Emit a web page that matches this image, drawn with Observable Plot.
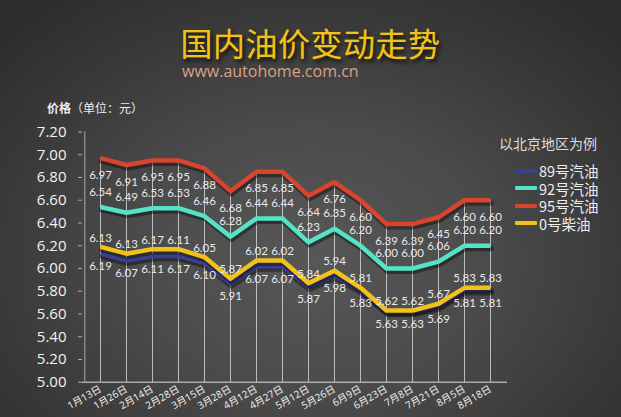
<!DOCTYPE html>
<html><head><meta charset="utf-8">
<script src="https://cdn.jsdelivr.net/npm/d3@7"></script>
<script src="https://cdn.jsdelivr.net/npm/@observablehq/plot@0.6"></script>
<style>
html,body{margin:0;padding:0;background:#2b2b2b;}
body{width:621px;height:417px;overflow:hidden;font-family:"Open Sans","Noto Sans CJK SC",sans-serif;}
#wrap{position:relative;width:621px;height:417px;overflow:hidden;
  background:radial-gradient(ellipse 70% 80% at 50% 62%, #575757 0%, #4b4b4b 40%, #383838 75%, #2c2c2c 100%);}
#title{position:absolute;left:0;top:26px;width:621px;text-align:center;font-family:"Noto Sans CJK SC",sans-serif;
  font-size:32px;line-height:32px;color:#f0c21c;text-shadow:0 0 1px #7a5a00,2px 3px 4px rgba(0,0,0,0.85);letter-spacing:0.5px;}
#sub{position:absolute;left:182px;top:62px;font-family:"Open Sans",sans-serif;font-size:16px;line-height:19px;color:#d9a284;}
#unit{position:absolute;left:47px;top:100px;font-size:12px;line-height:16px;color:#eeeeee;font-family:"Noto Sans CJK SC",sans-serif;}
#unit b{font-weight:700;}
#chart{position:absolute;left:0;top:0;}
#legend{position:absolute;left:499px;top:133px;color:#eeeeee;font-family:"Noto Sans CJK SC",sans-serif;}
#legend .lt{font-size:14px;line-height:20px;color:#dddddd;margin-bottom:9px;}
#legend .row{font-size:14.5px;line-height:17.5px;height:17.5px;display:flex;align-items:center;margin-left:16px;}
#legend .sw{display:inline-block;width:22px;height:4px;margin-right:2px;border-radius:1px;}
</style></head>
<body>
<div id="wrap">
  <div id="title">国内油价变动走势</div>
  <div id="sub">www.autohome.com.cn</div>
  <div id="unit"><b>价格</b>（单位：元）</div>
  <div id="chart"></div>
  <div id="legend"><div class="lt">以北京地区为例</div></div>
</div>
<script>
const dates = ["1月13日","1月26日","2月14日","2月28日","3月15日","3月28日","4月12日","4月27日","5月12日","5月26日","6月9日","6月23日","7月8日","7月21日","8月5日","8月18日"];
const gas89   = [6.13,6.07,6.11,6.11,6.05,5.87,6.02,6.02,5.84,5.94,5.81,5.62,5.62,5.67,5.81,5.81];
const gas92   = [6.54,6.49,6.53,6.53,6.46,6.28,6.44,6.44,6.23,6.35,6.20,6.00,6.00,6.06,6.20,6.20];
const gas95   = [6.97,6.91,6.95,6.95,6.88,6.68,6.85,6.85,6.64,6.76,6.60,6.39,6.39,6.45,6.60,6.60];
const diesel0 = [6.19,6.13,6.17,6.17,6.10,5.91,6.07,6.07,5.87,5.98,5.83,5.63,5.63,5.69,5.83,5.83];
// data labels as printed in the picture around the two lower lines
const labelTop    = [6.13,6.13,6.17,6.11,6.05,5.87,6.02,6.02,5.84,5.94,5.81,5.62,5.62,5.67,5.83,5.83];
const labelBottom = [6.19,6.07,6.11,6.17,6.10,5.91,6.07,6.07,5.87,5.98,5.83,5.63,5.63,5.69,5.81,5.81];
const yTicks = [5.00,5.20,5.40,5.60,5.80,6.00,6.20,6.40,6.60,6.80,7.00,7.20];
const seriesNames  = ["89号汽油","92号汽油","95号汽油","0号柴油"];
const seriesKeys   = ["g89","g92","g95","d0"];
const seriesColors = ["#3b3f8f","#55e3c8","#d8452f","#f2c21a"];

const rows = dates.map((d,i)=>({date:d,g89:gas89[i],g92:gas92[i],g95:gas95[i],d0:diesel0[i],top:labelTop[i],bottom:labelBottom[i]}));

const lineMarks = [];
for (const i of [0,1,2,3]) {
  const k = seriesKeys[i];
  lineMarks.push(Plot.line(rows,{x:"date",y:k,stroke:"#000",strokeOpacity:0.4,strokeWidth:5,dx:1,dy:3,strokeLinejoin:"round"}));
  lineMarks.push(Plot.line(rows,{x:"date",y:k,stroke:seriesColors[i],strokeWidth:4.5,strokeLinejoin:"round",strokeLinecap:"butt"}));
}

const labelFill = "#e9e9e9";
const lf = "Lato, 'Open Sans', sans-serif";
const ls = 11.5;
const chart = Plot.plot({
  width:621, height:417,
  marginLeft:82, marginRight:114, marginTop:131.5, marginBottom:35.3,
  style:{background:"transparent", color:"#f0f0f0", fontFamily:"'Open Sans','Noto Sans CJK SC',sans-serif"},
  x:{type:"point", domain:dates, padding:0.6, label:null, axis:null},
  y:{domain:[5,7.2], label:null, axis:null},
  marks:[
    Plot.ruleX(rows,{x:"date",y1:5,y2:"g95",stroke:"#eeeeee",strokeOpacity:0.7,strokeWidth:1}),
    Plot.ruleY([5],{stroke:"#dddddd",strokeWidth:1}),
    Plot.ruleX([dates[0]],{dx:-15.7,y1:5,y2:7.2,stroke:"#aaaaaa",strokeWidth:1}),
    Plot.axisY({ticks:yTicks,tickFormat:d=>d.toFixed(2),tickSize:4,tickPadding:12,fontSize:15,label:null,stroke:"#aaaaaa",fill:"#f2f2f2"}),
    Plot.axisX({tickRotate:-30,tickSize:0,tickPadding:6,fontSize:10,label:null,fill:"#f2f2f2"}),
    ...lineMarks,
    Plot.text(rows,{x:"date",y:"g95",text:d=>d.g95.toFixed(2),dy:17,fill:labelFill,fontSize:ls,fontFamily:lf}),
    Plot.text(rows,{x:"date",y:"g92",text:d=>d.g92.toFixed(2),dy:-15,fill:labelFill,fontSize:ls,fontFamily:lf}),
    Plot.text(rows,{x:"date",y:"d0",text:d=>d.top.toFixed(2),dy:-9,fill:labelFill,fontSize:ls,fontFamily:lf}),
    Plot.text(rows,{x:"date",y:"g89",text:d=>d.bottom.toFixed(2),dy:13,fill:labelFill,fontSize:ls,fontFamily:lf})
  ]
});
document.getElementById("chart").appendChild(chart);

const legend = document.getElementById("legend");
seriesNames.forEach((n,i)=>{
  const r = document.createElement("div"); r.className="row";
  const s = document.createElement("span"); s.className="sw"; s.style.background=seriesColors[i];
  r.appendChild(s); r.appendChild(document.createTextNode(n));
  legend.appendChild(r);
});
</script>
</body></html>
